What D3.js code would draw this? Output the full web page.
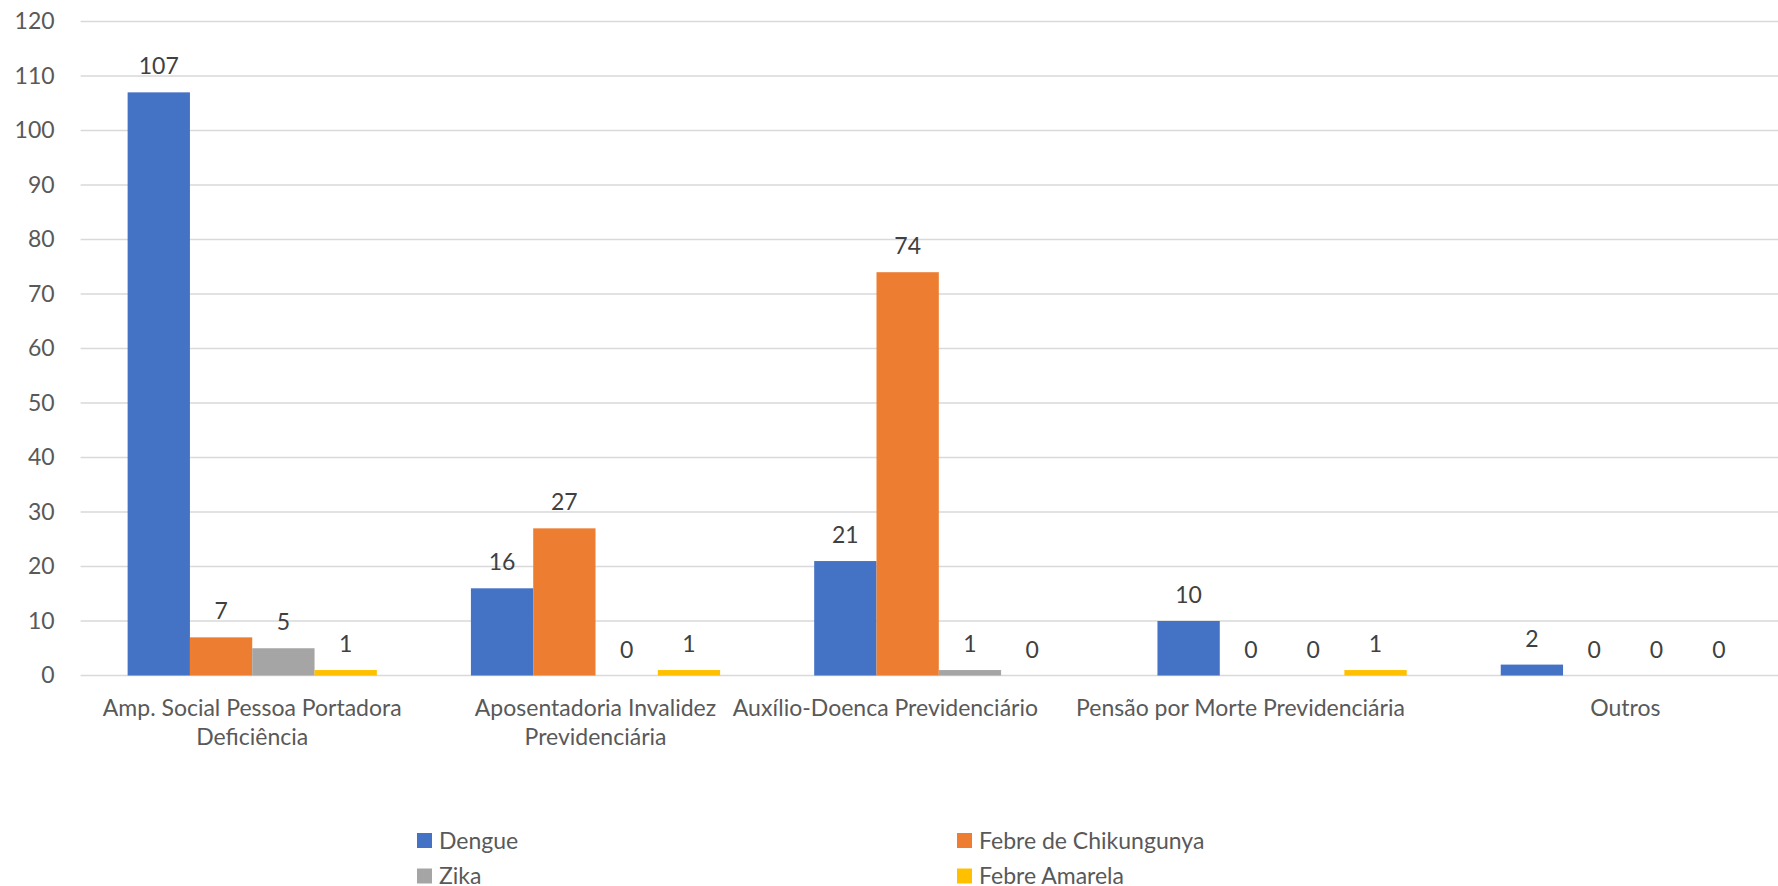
<!DOCTYPE html>
<html>
<head>
<meta charset="utf-8">
<script src="https://cdn.jsdelivr.net/npm/d3@7"></script>
<style>
  body { margin: 0; background: #fff; }
  text { font-family: Lato, "Open Sans", sans-serif; }
</style>
</head>
<body>
<div id="chart"></div>
<script>
var categories = [
  ["Amp. Social Pessoa Portadora", "Deficiência"],
  ["Aposentadoria Invalidez", "Previdenciária"],
  ["Auxílio-Doenca Previdenciário"],
  ["Pensão por Morte Previdenciária"],
  ["Outros"]
];
var seriesNames = ["Dengue", "Febre de Chikungunya", "Zika", "Febre Amarela"];
var dengue = [107, 16, 21, 10, 2];
var chikungunya = [7, 27, 74, 0, 0];
var zika = [5, 0, 1, 0, 0];
var amarela = [1, 1, 0, 1, 0];
var yTicks = [0, 10, 20, 30, 40, 50, 60, 70, 80, 90, 100, 110, 120];
var colors = ["#4472C4", "#ED7D31", "#A5A5A5", "#FFC000"];

(function() {
  var w = 1778, h = 886;
  var mLeft = 80.6, mRight = 1797, mTop = 21.5, mBottom = 675.5;
  var fs = 23;

  var svg = d3.select("#chart").append("svg").attr("width", w).attr("height", h);

  var values = [dengue, chikungunya, zika, amarela];
  var catIdx = d3.range(categories.length);

  var x0 = d3.scaleBand().domain(catIdx).range([mLeft, mRight]).paddingInner(0.274).paddingOuter(0.137);
  var x1 = d3.scaleBand().domain(d3.range(seriesNames.length)).range([0, x0.bandwidth()]);
  var y = d3.scaleLinear().domain([0, 120]).range([mBottom, mTop]);

  // gridlines
  svg.append("g").selectAll("line").data(yTicks).enter().append("line")
    .attr("x1", mLeft).attr("x2", mRight)
    .attr("y1", function(d) { return y(d); }).attr("y2", function(d) { return y(d); })
    .attr("stroke", "#D9D9D9").attr("stroke-width", 1.3);

  // y axis labels
  var yAxis = svg.append("g").attr("transform", "translate(" + (mLeft - 26) + ",0)")
    .call(d3.axisLeft(y).tickValues(yTicks).tickSize(0).tickPadding(0));
  yAxis.select(".domain").remove();
  yAxis.selectAll("text").attr("font-size", fs).attr("fill", "#595959")
    .style("font-family", "Lato, sans-serif");

  // bars
  var groups = svg.append("g").selectAll("g").data(catIdx).enter().append("g")
    .attr("transform", function(c) { return "translate(" + x0(c) + ",0)"; });

  function rows(c) {
    return values.map(function(v, s) { return { s: s, v: v[c] }; });
  }

  groups.selectAll("rect").data(rows).enter().append("rect")
    .attr("x", function(d) { return x1(d.s); })
    .attr("width", x1.bandwidth())
    .attr("y", function(d) { return y(d.v); })
    .attr("height", function(d) { return y(0) - y(d.v); })
    .attr("fill", function(d) { return colors[d.s]; });

  groups.selectAll("text").data(rows).enter().append("text")
    .attr("x", function(d) { return x1(d.s) + x1.bandwidth() / 2; })
    .attr("y", function(d) { return y(d.v) - 18; })
    .attr("text-anchor", "middle")
    .attr("font-size", fs).attr("fill", "#404040")
    .text(function(d) { return d.v; });

  // category labels
  var step = x0.step();
  var catLabels = svg.append("g").selectAll("text").data(catIdx).enter().append("text")
    .attr("font-size", fs).attr("fill", "#595959");

  catLabels.each(function(c) {
    var t = d3.select(this);
    var cx = x0(c) + x0.bandwidth() / 2;
    categories[c].forEach(function(line, i) {
      t.append("tspan").attr("x", cx).attr("y", 716 + i * 29).text(line);
    });
    t.attr("text-anchor", "middle");
    var bw = this.getBBox().width;
    // long single-line labels sit left of centre, as in the source
    if (categories[c].length == 1 && bw > 0.8 * step) {
      t.attr("text-anchor", "start");
      t.selectAll("tspan").attr("x", cx - 0.6 * step);
    }
  });

  // legend
  var legendPos = [[417, 840.5], [957, 840.5], [417, 876], [957, 876]];
  var legend = svg.append("g").selectAll("g").data(seriesNames).enter().append("g")
    .attr("transform", function(d, i) { return "translate(" + legendPos[i] + ")"; });
  legend.append("rect").attr("x", 0).attr("y", -7.5).attr("width", 15).attr("height", 15)
    .attr("fill", function(d, i) { return colors[i]; });
  legend.append("text").attr("x", 22).attr("y", 8).attr("font-size", fs).attr("fill", "#595959")
    .text(function(d) { return d; });
})();
</script>
</body>
</html>
